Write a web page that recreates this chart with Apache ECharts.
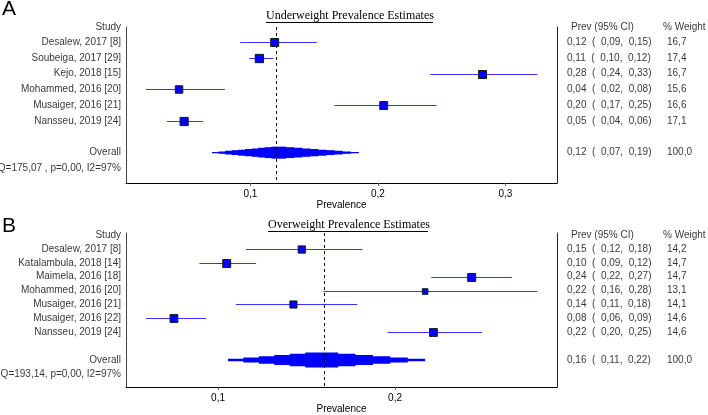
<!DOCTYPE html>
<html><head><meta charset="utf-8">
<script src="https://cdn.jsdelivr.net/npm/echarts@6/dist/echarts.min.js"></script>
<style>html,body{margin:0;padding:0;background:#fff}#c{width:708px;height:415px}</style>
</head><body><div id="c"></div>
<script>
// ---------- Panel A : Underweight ----------
const studiesA = ['Desalew, 2017 [8]', 'Soubeiga, 2017 [29]', 'Kejo, 2018 [15]', 'Mohammed, 2016 [20]', 'Musaiger, 2016 [21]', 'Nansseu, 2019 [24]'];
const estA = [0.119, 0.107, 0.282, 0.044, 0.2045, 0.048];
const loA  = [0.092, 0.099, 0.241, 0.018, 0.166, 0.0345];
const hiA  = [0.152, 0.118, 0.325, 0.080, 0.246, 0.063];
const weightA = [16.7, 17.4, 16.7, 15.6, 16.6, 17.1];
const ciTextA = ['0,12  (  0,09,  0,15)', '0,11  (  0,10,  0,12)', '0,28  (  0,24,  0,33)', '0,04  (  0,02,  0,08)', '0,20  (  0,17,  0,25)', '0,05  (  0,04,  0,06)'];
const wTextA = ['16,7', '17,4', '16,7', '15,6', '16,6', '17,1'];
const overallA = [0.0698, 0.185, 0.1216]; // lo, hi, est
const overallTextA = ['0,12  (  0,07,  0,19)', '100,0'];
const qTextA = 'Q=175,07 , p=0,00, I2=97%';
const titleA = 'Underweight Prevalence Estimates';

// ---------- Panel B : Overweight ----------
const studiesB = ['Desalew, 2017 [8]', 'Katalambula, 2018 [14]', 'Maimela, 2016 [18]', 'Mohammed, 2016 [20]', 'Musaiger, 2016 [21]', 'Musaiger, 2016 [22]', 'Nansseu, 2019 [24]'];
const estB = [0.1473, 0.1049, 0.2433, 0.217, 0.1426, 0.0751, 0.2217];
const loB  = [0.1158, 0.0895, 0.2205, 0.1595, 0.110, 0.0593, 0.1957];
const hiB  = [0.1817, 0.1215, 0.2659, 0.2804, 0.1787, 0.0932, 0.249];
const weightB = [14.2, 14.7, 14.7, 13.1, 14.1, 14.6, 14.6];
const ciTextB = ['0,15  (  0,12,  0,18)', '0,10  (  0,09,  0,12)', '0,24  (  0,22,  0,27)', '0,22  (  0,16,  0,28)', '0,14  (  0,11,  0,18)', '0,08  (  0,06,  0,09)', '0,22  (  0,20,  0,25)'];
const wTextB = ['14,2', '14,7', '14,7', '13,1', '14,1', '14,6', '14,6'];
const overallB = [0.1056, 0.217, 0.158];
const overallTextB = ['0,16  (  0,11,  0,22)', '100,0'];
const qTextB = 'Q=193,14, p=0,00, I2=97%';
const titleB = 'Overweight Prevalence Estimates';

const tickVals = {A: [0.1, 0.2, 0.3], B: [0.1, 0.2]};
const headerStudy = 'Study', headerPrev = 'Prev (95% CI)', headerW = '% Weight', overallLabel = 'Overall';

const FONT = 'Liberation Sans';
const chart = echarts.init(document.getElementById('c'), null, {renderer: 'canvas'});

function ciRender(sizeFn) {
  return function (params, api) {
    const lo = api.value(0), hi = api.value(1), est = api.value(2), row = api.value(3), w = api.value(4);
    const a = api.coord([lo, row]), b = api.coord([hi, row]), c = api.coord([est, row]);
    const s = sizeFn(w);
    const y = Math.round(a[1]) + 0.5;
    return {type: 'group', children: [
      {type: 'line', shape: {x1: a[0], y1: y, x2: b[0], y2: y}, style: {stroke: '#3535ff', lineWidth: 1}},
      {type: 'rect', shape: {x: c[0] - s / 2, y: y - s / 2, width: s, height: s}, style: {fill: '#0000ff', stroke: '#1a1a1a', lineWidth: 1}}
    ]};
  };
}
function diamondRender(H, n) {
  return function (params, api) {
    const lo = api.value(0), hi = api.value(1), est = api.value(2), row = api.value(3);
    const a = api.coord([lo, row]), b = api.coord([hi, row]), c = api.coord([est, row]);
    const kids = [];
    for (let i = 0; i < n; i++) {
      const f = 1 - i / n;
      const x1 = c[0] - (c[0] - a[0]) * f, x2 = c[0] + (b[0] - c[0]) * f;
      const h = H * (i + 1) / n;
      kids.push({type: 'rect', shape: {x: x1, y: c[1] - h / 2, width: x2 - x1, height: h}, style: {fill: '#0000ff'}});
    }
    return {type: 'group', children: kids};
  };
}

function panel(idx, key, studies, est, lo, hi, wt, ciText, wText, overall, overallText, qText, xr, yr, sizeFn, H, n) {
  const ciData = studies.map((s, i) => [lo[i], hi[i], est[i], i, wt[i]]);
  const ovRow = studies.length + 1, qRow = studies.length + 2;
  const leftData = [{name: headerStudy, value: [xr[0], -0.95]}]
    .concat(studies.map((s, i) => ({name: s, value: [xr[0], i]})))
    .concat([{name: overallLabel, value: [xr[0], ovRow]}, {name: qText, value: [xr[0], qRow]}]);
  const rightData = [{name: '{hc|' + headerPrev + '}{hw|' + headerW + '}', value: [xr[1], -0.95]}]
    .concat(studies.map((s, i) => ({name: '{c|' + ciText[i] + '}{w|' + wText[i] + '}', value: [xr[1], i]})))
    .concat([{name: '{c|' + overallText[0] + '}{w|' + overallText[1] + '}', value: [xr[1], ovRow]}]);
  const txt = {fontFamily: FONT, fontSize: 10, color: '#000'};
  return {
    xAxis: {gridIndex: idx, type: 'value', min: xr[0], max: xr[1],
      axisLine: {onZero: false, lineStyle: {color: '#000', width: 1}},
      axisTick: {show: true, customValues: tickVals[key], length: 3, lineStyle: {color: '#666'}},
      axisLabel: {customValues: tickVals[key], formatter: v => v.toFixed(1).replace('.', ','), margin: 6, ...txt},
      splitLine: {show: false},
      name: 'Prevalence', nameLocation: 'middle', nameGap: 15, nameTextStyle: txt},
    yAxes: [
      {gridIndex: idx, type: 'value', inverse: true, min: yr[0], max: yr[1], axisLine: {show: true, onZero: false, lineStyle: {color: '#444'}}, axisTick: {show: false}, axisLabel: {show: false}, splitLine: {show: false}},
      {gridIndex: idx, type: 'value', position: 'right', inverse: true, min: yr[0], max: yr[1], axisLine: {show: true, onZero: false, lineStyle: {color: '#222'}}, axisTick: {show: false}, axisLabel: {show: false}, splitLine: {show: false}}
    ],
    series: [
      {type: 'custom', xAxisIndex: idx, yAxisIndex: idx * 2, data: ciData, encode: {x: [0, 1, 2], y: 3}, renderItem: ciRender(sizeFn), clip: false, z: 5},
      {type: 'custom', xAxisIndex: idx, yAxisIndex: idx * 2, data: [[overall[0], overall[1], overall[2], ovRow]], encode: {x: [0, 1, 2], y: 3}, renderItem: diamondRender(H, n), clip: false, z: 4},
      {type: 'scatter', xAxisIndex: idx, yAxisIndex: idx * 2, data: leftData, symbolSize: 0, clip: false, silent: true,
        label: {show: true, position: 'left', distance: 5, formatter: '{b}', ...txt},
        markLine: {silent: true, symbol: ['none', 'none'], label: {show: false}, lineStyle: {type: [3, 3], color: '#000', width: 1}, data: [{xAxis: overall[2]}]}},
      {type: 'scatter', xAxisIndex: idx, yAxisIndex: idx * 2, data: rightData, symbolSize: 0, clip: false, silent: true,
        label: {show: true, position: 'right', distance: 10, formatter: '{b}', ...txt,
          rich: {
            c: {width: 100, ...txt}, w: {...txt},
            hc: {width: 92, padding: [0, 0, 0, 4], ...txt}, hw: {...txt}
          }}}
    ]
  };
}

const pA = panel(0, 'A', studiesA, estA, loA, hiA, weightA, ciTextA, wTextA, overallA, overallTextA, qTextA,
  [0.0024, 0.3404], [-0.95, 8.92], w => w * 0.48, 12, 10);
const pB = panel(1, 'B', studiesB, estB, loB, hiB, weightB, ciTextB, wTextB, overallB, overallTextB, qTextB,
  [0.048, 0.2915], [-1.14, 9.94], w => 5.6 + (w - 13.1) * 1.5, 15, 6);

const titleStyle = {fontFamily: 'Liberation Serif', fontSize: 12, fontWeight: 'normal', color: '#000'};
chart.setOption({
  animation: false,
  backgroundColor: '#fff',
  title: [
    {text: 'A', left: 2, top: -1, padding: 0, textStyle: {fontFamily: FONT, fontSize: 21, fontWeight: 'normal', color: '#000'}},
    {text: 'B', left: 2, top: 216, padding: 0, textStyle: {fontFamily: FONT, fontSize: 21, fontWeight: 'normal', color: '#000'}},
    {text: titleA, left: 266, top: 10, padding: 0, textStyle: titleStyle},
    {text: titleB, left: 268, top: 219, padding: 0, textStyle: titleStyle}
  ],
  graphic: [
    {type: 'line', shape: {x1: 266, y1: 22.5, x2: 433, y2: 22.5}, style: {stroke: '#000', lineWidth: 1}},
    {type: 'line', shape: {x1: 268, y1: 231.5, x2: 428, y2: 231.5}, style: {stroke: '#000', lineWidth: 1}}
  ],
  grid: [
    {left: 126, top: 27, width: 431, height: 156},
    {left: 126, top: 233, width: 431, height: 158}
  ],
  xAxis: [pA.xAxis, pB.xAxis],
  yAxis: pA.yAxes.concat(pB.yAxes),
  series: pA.series.concat(pB.series)
});
</script></body></html>
